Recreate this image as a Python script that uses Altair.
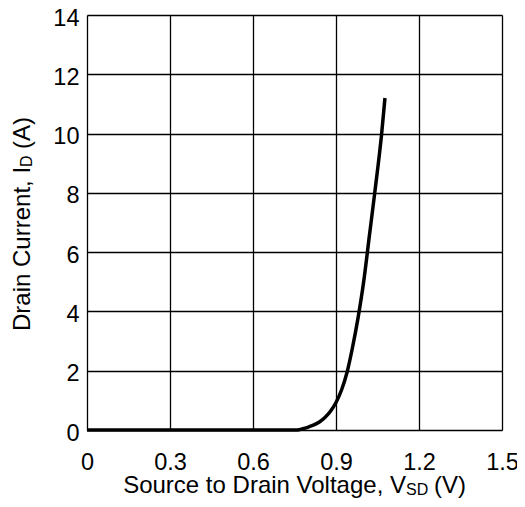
import altair as alt
import pandas as pd

# Data
vsd = [0.0, 0.76, 0.78, 0.80, 0.82, 0.84, 0.86, 0.88, 0.90, 0.92, 0.94, 0.96, 0.98, 1.00, 1.02, 1.04, 1.065, 1.077]
i_d = [0.0, 0.0, 0.04, 0.10, 0.17, 0.27, 0.42, 0.63, 0.93, 1.35, 1.95, 2.8, 3.8, 5.0, 6.5, 8.0, 10.0, 11.2]

x_ticks = [0, 0.3, 0.6, 0.9, 1.2, 1.5]
y_ticks = [0, 2, 4, 6, 8, 10, 12, 14]

x_title = ["Source to Drain Voltage, V", "SD", "(V)"]
y_title = ["Drain Current, I", "D", "(A)"]

FONT = "Liberation Sans"
W, H = 415, 415

df = pd.DataFrame({"vsd": vsd, "id": i_d})

line = alt.Chart(df).mark_line(color="black", strokeWidth=3.5, interpolate="monotone").encode(
    x=alt.X("vsd:Q", scale=alt.Scale(domain=[0, 1.5], nice=False),
            axis=alt.Axis(values=x_ticks, title=None, ticks=False, domain=False,
                          labelPadding=20, labelFontSize=23.5, labelFont=FONT, labelColor="black",
                          labelExpr="datum.value == 0 ? '0' : format(datum.value, '.1f')",
                          grid=True, gridColor="black", gridWidth=1.3, gridOpacity=1,
                          labelFlush=False)),
    y=alt.Y("id:Q", scale=alt.Scale(domain=[0, 14], nice=False),
            axis=alt.Axis(values=y_ticks, title=None, ticks=False, domain=False,
                          labelPadding=8, labelFontSize=23.5, labelFont=FONT, labelColor="black",
                          labelOffset=3,
                          grid=True, gridColor="black", gridWidth=1.3, gridOpacity=1,
                          labelFlush=False)),
)


def txt(s, x, y, size, align, angle=0):
    return alt.Chart(pd.DataFrame({"t": [s]})).mark_text(
        font=FONT, fontSize=size, align=align, baseline="alphabetic", angle=angle, color="black"
    ).encode(text="t:N", x=alt.value(x), y=alt.value(y))


# x title pieces
X1 = 319
xt = [
    txt(x_title[0], X1, 478, 24, "right"),
    txt(x_title[1], X1, 480, 16, "left"),
    txt(x_title[2], X1 + 22 + 6, 478, 24, "left"),
]
# y title pieces (rotated)
Y0 = 316
yt = [
    txt(y_title[0], -57, Y0, 24, "left", 270),
    txt(y_title[1], -55, Y0 - 164, 16, "left", 270),
    txt(y_title[2], -57, Y0 - 164 - 12 - 6, 24, "left", 270),
]

chart = alt.layer(line, *xt, *yt).properties(
    width=W, height=H,
    autosize=alt.AutoSizeParams(type="none"),
    padding={"left": 79, "top": 7, "right": 15, "bottom": 69},
).configure_view(stroke="black", strokeWidth=2.5).configure(background="white")

chart.save("out.html", embed_options={"renderer": "svg", "actions": False})
